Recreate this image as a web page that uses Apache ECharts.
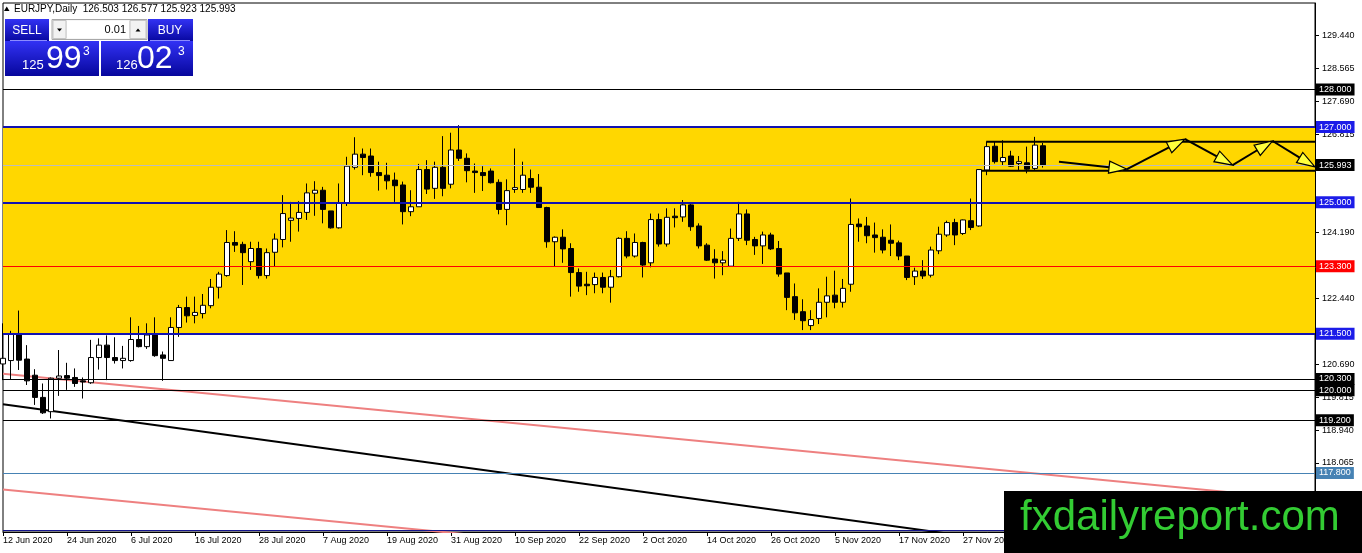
<!DOCTYPE html>
<html>
	<head>
		<meta charset="UTF-8">
		<title>EURJPY,Daily</title>
		<script src="https://cdn.jsdelivr.net/npm/echarts@6.0.0/dist/echarts.min.js"></script>
		<style>
			html, body { margin: 0; padding: 0; background: #fff; }
			#main { width: 1362px; height: 553px; }
		</style>
	</head>
	<body>
		<div id="main"></div>
		<script>
			// ---- data (bar 0 = 12 Jun 2020) ----
			var symbolName = 'EURJPY,Daily';
			var firstDay = '2020-06-12';
			var slotCount = 165;   // bars + empty space on the right

			var opens = [120.70,120.79,121.51,120.83,120.40,119.81,119.43,120.32,120.39,120.34,
				120.25,120.20,120.87,121.20,120.87,120.79,120.79,121.35,121.16,121.47,
				120.94,120.79,121.67,122.20,121.99,122.04,122.25,122.74,123.05,123.93,
				123.88,123.42,123.77,123.05,123.67,124.01,124.52,124.57,124.73,125.24,
				125.32,124.77,124.32,124.99,125.93,126.28,126.23,125.79,125.72,125.59,
				125.46,124.75,124.88,125.87,125.37,125.93,125.48,126.39,126.17,125.83,
				125.79,125.83,125.53,124.81,125.34,125.34,125.63,125.40,124.86,123.95,
				124.07,123.77,123.13,122.82,122.81,123.00,122.74,123.02,124.04,123.57,
				123.93,123.39,124.54,123.89,124.63,124.61,124.93,124.37,123.86,123.49,
				123.39,123.30,124.04,124.69,124.01,123.84,124.13,123.77,123.12,122.49,
				122.09,121.72,121.91,122.34,122.53,122.34,122.82,124.42,124.37,124.13,
				124.07,123.99,123.92,123.57,123.02,123.17,123.06,123.71,124.13,124.46,
				124.17,124.51,124.37,125.86,126.49,126.08,126.23,126.03,126.05,125.90,
				126.503];
			var highs = [121.78,121.58,122.12,121.20,120.56,120.18,120.34,121.07,120.73,120.58,
				120.34,121.34,121.38,121.46,121.41,121.18,121.94,121.71,121.78,121.94,
				121.03,121.94,122.27,122.49,122.49,122.56,122.96,123.15,124.26,124.23,
				123.95,123.95,123.95,123.77,124.17,125.19,125.01,125.03,125.50,125.56,
				125.41,124.77,125.50,126.21,126.73,126.43,126.43,126.08,126.05,125.79,
				125.55,125.32,126.02,126.12,126.08,126.76,126.85,127.05,126.30,126.03,
				125.96,125.90,125.61,125.61,126.43,126.08,125.87,125.75,124.88,124.09,
				124.28,123.91,123.24,123.15,123.13,123.13,123.20,124.07,124.23,124.17,
				123.95,124.70,124.70,124.84,124.84,125.06,124.99,124.44,123.91,123.75,
				123.70,124.30,125.01,124.81,124.08,124.22,124.19,123.97,123.12,122.84,
				122.42,122.13,122.71,123.02,123.18,122.96,125.10,124.57,124.61,124.46,
				124.28,124.41,123.98,123.57,123.26,123.46,123.82,124.35,124.51,124.56,
				124.54,125.10,125.87,126.61,126.61,126.65,126.37,126.23,126.48,126.74,
				126.577];
			var lows = [120.27,120.29,120.54,120.14,119.61,119.37,119.25,119.85,120.01,120.09,
				119.78,120.17,120.55,120.27,120.71,120.58,120.76,121.14,121.10,120.89,
				120.25,120.79,121.42,121.80,121.78,121.91,122.18,122.44,123.02,123.68,
				122.80,123.20,122.97,122.97,123.30,123.80,123.95,124.22,124.53,124.64,
				124.44,124.30,124.30,124.90,125.87,125.72,125.68,125.31,125.34,125.01,
				124.41,124.63,124.88,125.22,125.09,125.16,125.37,126.10,125.53,125.25,
				125.30,125.50,124.68,124.39,125.25,125.25,125.25,124.85,123.79,123.30,
				123.39,122.49,122.62,122.53,122.58,122.58,122.33,123.00,123.51,123.53,
				123.00,123.27,123.82,123.82,124.33,124.48,124.24,123.77,123.44,122.97,
				123.06,123.30,123.97,123.86,123.60,123.36,123.73,123.02,122.13,121.87,
				121.60,121.60,121.76,121.94,122.18,122.20,122.62,123.95,123.91,123.66,
				123.64,123.57,123.46,122.93,122.80,122.96,123.00,123.62,124.08,123.86,
				124.13,124.26,124.35,125.72,126.03,125.99,125.94,125.86,125.77,125.86,
				125.923];
			var closes = [120.85,121.51,120.80,120.25,119.81,119.40,120.32,120.38,120.32,120.18,
				120.22,120.87,121.20,120.87,120.79,120.85,121.35,121.16,121.47,120.92,
				120.85,121.67,122.20,121.98,122.07,122.26,122.74,123.09,123.93,123.86,
				123.66,123.77,123.05,123.66,124.02,124.70,124.58,124.73,125.25,125.32,
				124.81,124.32,124.99,125.96,126.28,126.19,125.79,125.71,125.57,125.44,
				124.75,124.88,125.87,125.35,125.93,125.37,126.39,126.17,125.84,125.79,
				125.71,125.52,124.81,125.31,125.39,125.72,125.40,124.86,123.95,124.07,
				123.76,123.13,122.77,122.78,123.00,122.74,123.02,124.04,123.57,123.93,
				123.33,124.54,123.89,124.60,124.59,124.93,124.35,123.84,123.46,123.39,
				123.46,124.04,124.69,123.99,123.84,124.13,123.76,123.09,122.47,122.06,
				121.85,121.88,122.34,122.51,122.34,122.71,124.41,124.35,124.11,124.06,
				123.73,123.91,123.57,123.00,123.17,123.04,123.73,124.15,124.46,124.13,
				124.53,124.33,125.87,126.48,126.08,126.19,125.96,126.08,125.88,126.52,
				125.993];

			// price axis ticks shown by the terminal
			var priceTicks = [129.44, 128.565, 127.69, 126.815, 124.19, 122.44, 120.69, 119.815, 118.94, 118.065];
			var priceMin = 116.23, priceMax = 130.30;

			// horizontal levels and the yellow zone
			var levels = [128.0, 127.0, 125.993, 125.0, 123.3, 121.5, 120.3, 120.0, 119.2, 117.8, 116.28];
			var zone = [121.5, 127.0];

			// drawn objects: [barIndex, price]
			var trendPinkUpper = [[0, 120.44], [164, 117.07]];
			var trendPinkLower = [[0, 117.36], [164, 113.99]];
			var trendBlack = [[0, 119.63], [164, 114.85]];
			var boxTop = [[122.9, 126.61], [170.5, 126.61]];
			var boxBottom = [[122.1, 125.84], [164, 125.84]];
			var pathPoints = [[132.0, 126.08], [140.5, 125.88], [147.75, 126.68], [153.7, 125.99], [158.7, 126.63], [164, 125.94]];

			// ---- build ----
			var FONT = 'Liberation Sans';
			var monthNames = ['Jan','Feb','Mar','Apr','May','Jun','Jul','Aug','Sep','Oct','Nov','Dec'];
			var dates = [];
			var d = new Date(firstDay + 'T00:00:00Z');
			while (dates.length < slotCount) {
				var wd = d.getUTCDay();
				if (wd !== 0 && wd !== 6) {
					dates.push(d.getUTCDate() + ' ' + monthNames[d.getUTCMonth()] + ' ' + d.getUTCFullYear());
				}
				d.setUTCDate(d.getUTCDate() + 1);
			}

			var candles = opens.map(function (o, i) { return [o, closes[i], lows[i], highs[i]]; });

			// style of each level line (same order as levels)
			var levelStyle = [
				{ line: '#000000', width: 1, tag: '#000000' },
				{ line: '#1212b0', width: 2, tag: '#1c1ce8' },
				{ line: '#bcbcbc', width: 1, tag: '#000000' },
				{ line: '#1212b0', width: 2, tag: '#1c1ce8' },
				{ line: '#ff0000', width: 1, tag: '#ff0000' },
				{ line: '#1212b0', width: 2, tag: '#1c1ce8' },
				{ line: '#000000', width: 1, tag: '#000000' },
				{ line: '#000000', width: 1, tag: '#000000' },
				{ line: '#000000', width: 1, tag: '#000000' },
				{ line: '#4682b4', width: 1, tag: '#4682b4' },
				{ line: '#14148c', width: 1, tag: null }
			];
			var levelLines = levels.map(function (v, i) {
				var s = levelStyle[i];
				return {
					yAxis: v,
					lineStyle: { color: s.line, width: s.width, type: 'solid' },
					label: s.tag ? {
						show: true, position: 'end', distance: 1,
						formatter: v.toFixed(3),
						color: '#fff', backgroundColor: s.tag,
						padding: [1, 3, 1, 3], fontSize: 9, lineHeight: 10, fontFamily: FONT
					} : { show: false }
				};
			});

			var segments = [];
			for (var k = 0; k < pathPoints.length - 1; k++) {
				segments.push([pathPoints[k][0], pathPoints[k][1], pathPoints[k + 1][0], pathPoints[k + 1][1]]);
			}

			function trendSeries(points, color, width, clip) {
				return {
					type: 'line', xAxisIndex: 1, yAxisIndex: 0,
					data: points, symbol: 'none', silent: true, clip: clip,
					lineStyle: { color: color, width: width }, z: 3
				};
			}

			var last = opens.length - 1;
			var header = symbolName + '  ' + opens[last].toFixed(3) + ' ' + highs[last].toFixed(3) + ' ' +
				lows[last].toFixed(3) + ' ' + closes[last].toFixed(3);

			var blueFill = new echarts.graphic.LinearGradient(0, 0, 0, 1, [
				{ offset: 0, color: '#3232f4' }, { offset: 1, color: '#06069c' }
			]);

			function txt(x, y, s, size, color, align, z) {
				return {
					type: 'text', x: x, y: y, z: z || 110,
					style: {
						text: s, fill: color, font: size + 'px "' + FONT + '"',
						align: align || 'left', verticalAlign: 'middle',
						textAlign: align || 'left', textVerticalAlign: 'middle'
					}
				};
			}

			var panel = [
				{ type: 'polygon', z: 110, shape: { points: [[4, 11], [9.5, 11], [6.75, 6.5]] }, style: { fill: '#000' } },
				txt(14, 9, header, 10, '#000'),
				// sell
				{ type: 'rect', z: 100, shape: { x: 5, y: 19, width: 44, height: 23 }, style: { fill: blueFill } },
				{ type: 'rect', z: 100, shape: { x: 5, y: 41, width: 94, height: 35 }, style: { fill: blueFill } },
				{ type: 'line', z: 101, shape: { x1: 10, y1: 40.5, x2: 47, y2: 40.5 }, style: { stroke: '#8c8cff', lineWidth: 1 } },
				txt(27, 30.5, 'SELL', 12, '#fff', 'center'),
				txt(22, 65.5, '125', 13, '#fff'),
				txt(46, 59, '99', 32, '#fff'),
				txt(83, 51.5, '3', 12, '#fff'),
				// buy
				{ type: 'rect', z: 100, shape: { x: 148, y: 19, width: 45, height: 23 }, style: { fill: blueFill } },
				{ type: 'rect', z: 100, shape: { x: 101, y: 41, width: 92, height: 35 }, style: { fill: blueFill } },
				{ type: 'line', z: 101, shape: { x1: 150, y1: 40.5, x2: 190, y2: 40.5 }, style: { stroke: '#8c8cff', lineWidth: 1 } },
				txt(170, 30.5, 'BUY', 12, '#fff', 'center'),
				txt(116, 65.5, '126', 13, '#fff'),
				txt(137, 59, '02', 32, '#fff'),
				txt(178, 51.5, '3', 12, '#fff'),
				// lot control
				{ type: 'rect', z: 100, shape: { x: 52, y: 19.5, width: 95, height: 20 }, style: { fill: '#ececec', stroke: '#a8a8a8', lineWidth: 1 } },
				{ type: 'rect', z: 101, shape: { x: 53, y: 20.5, width: 13, height: 18 }, style: { fill: '#f2f2f2', stroke: '#c4c4c4', lineWidth: 1 } },
				{ type: 'rect', z: 101, shape: { x: 67, y: 20.5, width: 62, height: 18 }, style: { fill: '#ffffff' } },
				{ type: 'rect', z: 101, shape: { x: 130, y: 20.5, width: 16, height: 18 }, style: { fill: '#f2f2f2', stroke: '#c4c4c4', lineWidth: 1 } },
				{ type: 'polygon', z: 102, shape: { points: [[57, 28.5], [62, 28.5], [59.5, 31.5]] }, style: { fill: '#000' } },
				{ type: 'polygon', z: 102, shape: { points: [[135.5, 31.5], [140.5, 31.5], [138, 28.5]] }, style: { fill: '#000' } },
				txt(126, 30, '0.01', 11, '#000', 'right'),
				// watermark
				{ type: 'rect', z: 120, shape: { x: 1004, y: 491, width: 358, height: 62 }, style: { fill: '#000' } },
				txt(1020, 518, 'fxdailyreport.com', 42, '#33cc33', 'left', 130)
			];

			var option = {
				backgroundColor: '#fff',
				animation: false,
				grid: { left: 3, right: 47, top: 3, bottom: 21, show: true, borderColor: '#000', borderWidth: 1, backgroundColor: '#fff' },
				xAxis: [{
					type: 'category', data: dates, boundaryGap: false,
					axisLine: { onZero: false, lineStyle: { color: '#000', width: 1 } },
					axisTick: { interval: 7, length: 4, lineStyle: { color: '#000' } },
					axisLabel: { interval: 7, align: 'left', margin: 4, fontSize: 9, color: '#000', fontFamily: FONT },
					splitLine: { show: false }
				}, {
					type: 'value', min: 0, max: slotCount - 1, show: false
				}],
				yAxis: [{
					type: 'value', position: 'right', min: priceMin, max: priceMax,
					axisLine: { show: true, onZero: false, lineStyle: { color: '#000', width: 1 } },
					axisTick: { show: true, length: 4, customValues: priceTicks, lineStyle: { color: '#000' } },
					axisLabel: {
						customValues: priceTicks, margin: 7, fontSize: 9, color: '#000', fontFamily: FONT,
						formatter: function (v) { return v.toFixed(3); }
					},
					splitLine: { show: false }
				}],
				graphic: panel,
				series: [{
					type: 'candlestick', name: 'EURJPY', xAxisIndex: 0, yAxisIndex: 0,
					data: candles, barWidth: 5, silent: true, z: 4,
					itemStyle: {
						color: '#ffffff', color0: '#000000',
						borderColor: '#000000', borderColor0: '#000000', borderColorDoji: '#000000',
						borderWidth: 1
					},
					markArea: {
						silent: true,
						itemStyle: { color: '#ffd700' },
						data: [[{ yAxis: zone[0] }, { yAxis: zone[1] }]]
					},
					markLine: {
						silent: true, symbol: ['none', 'none'], animation: false,
						data: levelLines
					}
				},
				trendSeries(trendPinkUpper, '#ee8080', 2, true),
				trendSeries(trendPinkLower, '#ee8080', 2, true),
				trendSeries(trendBlack, '#000000', 2, true),
				trendSeries(boxTop, '#000000', 2, false),
				trendSeries(boxBottom, '#000000', 2, true),
				{
					type: 'custom', xAxisIndex: 1, yAxisIndex: 0, data: segments, clip: false, silent: true, z: 6,
					renderItem: function (params, api) {
						var a = api.coord([api.value(0), api.value(1)]);
						var b = api.coord([api.value(2), api.value(3)]);
						var dx = b[0] - a[0], dy = b[1] - a[1];
						var len = Math.sqrt(dx * dx + dy * dy);
						var ux = dx / len, uy = dy / len;
						var L = 18, W = 6;
						var bx = b[0] - ux * L, by = b[1] - uy * L;
						return {
							type: 'group',
							children: [{
								type: 'line',
								shape: { x1: a[0], y1: a[1], x2: bx, y2: by },
								style: { stroke: '#000', lineWidth: 2 }
							}, {
								type: 'polygon',
								shape: { points: [[b[0], b[1]], [bx - uy * W, by + ux * W], [bx + uy * W, by - ux * W]] },
								style: { fill: '#ffff3c', stroke: '#000', lineWidth: 1.2 }
							}]
						};
					}
				}]
			};

			var myChart = echarts.init(document.getElementById('main'));
			myChart.setOption(option);
		</script>
	</body>
</html>
